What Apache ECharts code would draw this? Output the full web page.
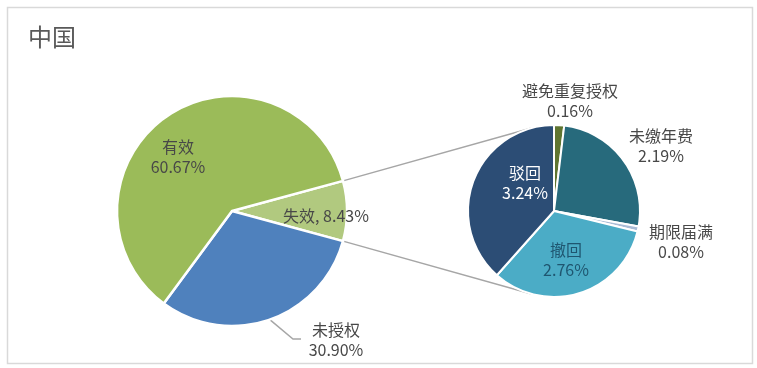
<!DOCTYPE html>
<html><head><meta charset="utf-8">
<script src="https://cdn.jsdelivr.net/npm/echarts@6/dist/echarts.min.js"></script>
<style>html,body{margin:0;padding:0;background:#fff}#c{width:757px;height:368px}</style>
</head><body><div id="c"></div>
<script>
// ---- data ----
const titleText = '中国';
const mainNames = ['失效', '未授权', '有效'];
const mainValues = [8.43, 30.90, 60.67];
const subNames = ['避免重复授权', '未缴年费', '期限届满', '撤回', '驳回'];
const subValues = [0.16, 2.19, 0.08, 2.76, 3.24];

// ---- layout / style ----
const C1 = [232, 211], R1 = 115;
const C2 = [554, 211], R2 = 86;
const mainColors = ['#B1C97F', '#4F81BD', '#9BBB59'];
const subColors = ['#5F7530', '#276A7C', '#A9BCD6', '#4BACC6', '#2C4D75'];
const mainLabelPos = [[94, 5], [104, 129], [-54, -54]];
const subLabelPos = [[16, -110], [107, -65], [127, 31], [12, 49], [-29, -28]];
const subLabelColors = ['#484848', '#484848', '#484848', '#1F5670', '#FFFFFF'];
const leaderPts = [[61, 128], [69, 128]];
const FONT = '"Noto Sans CJK SC", "Microsoft YaHei", sans-serif';

const rad = d => d * Math.PI / 180;
const mainSum = mainValues.reduce((a, b) => a + b, 0);
const mainStart = mainValues[0] / mainSum * 360 / 2;
const subStart = 90;

const pTop = [C1[0] + R1 * Math.cos(rad(mainStart)), C1[1] - R1 * Math.sin(rad(mainStart))];
const pBot = [C1[0] + R1 * Math.cos(rad(-mainStart)), C1[1] - R1 * Math.sin(rad(-mainStart))];
function tangent(P, top) {
  const dx = P[0] - C2[0], dy = P[1] - C2[1];
  const d = Math.hypot(dx, dy), phi = Math.atan2(dy, dx), a = Math.acos(R2 / d);
  const q1 = [C2[0] + R2 * Math.cos(phi + a), C2[1] + R2 * Math.sin(phi + a)];
  const q2 = [C2[0] + R2 * Math.cos(phi - a), C2[1] + R2 * Math.sin(phi - a)];
  return top ? (q1[1] < q2[1] ? q1 : q2) : (q1[1] > q2[1] ? q1 : q2);
}
const tTop = tangent(pTop, true), tBot = tangent(pBot, false);

const labelBase = { show: true, fontFamily: FONT, fontSize: 16, lineHeight: 20, color: '#484848' };

const mainData = mainNames.map((n, i) => ({
  name: n, value: mainValues[i],
  itemStyle: { color: mainColors[i] },
  label: Object.assign({}, labelBase, {
    position: i === 1 ? 'outside' : 'inside',
    formatter: i === 0 ? (p => p.name + ', ' + p.value.toFixed(2) + '%') : (p => p.name + '\n' + p.value.toFixed(2) + '%')
  }),
  labelLine: { show: i === 1, lineStyle: { color: '#A6A6A6', width: 1.5 } }
}));
const subData = subNames.map((n, i) => ({
  name: n, value: subValues[i],
  itemStyle: { color: subColors[i] },
  label: Object.assign({}, labelBase, {
    position: 'inside', color: subLabelColors[i],
    formatter: p => p.name + '\n' + p.value.toFixed(2) + '%'
  }),
  labelLine: { show: false }
}));

const chart = echarts.init(document.getElementById('c'));
chart.setOption({
  animation: false,
  backgroundColor: '#fff',
  title: { text: titleText, left: 23, top: 20, textStyle: { fontFamily: FONT, fontSize: 24, fontWeight: 'normal', color: '#595959' } },
  graphic: [
    { type: 'rect', shape: { x: 7.5, y: 7.5, width: 745, height: 356 }, style: { fill: 'none', stroke: '#D9D9D9', lineWidth: 1.5 }, silent: true, z: -1 },
    { type: 'line', shape: { x1: pTop[0], y1: pTop[1], x2: tTop[0], y2: tTop[1] }, style: { stroke: '#A6A6A6', lineWidth: 1.5 }, silent: true },
    { type: 'line', shape: { x1: pBot[0], y1: pBot[1], x2: tBot[0], y2: tBot[1] }, style: { stroke: '#A6A6A6', lineWidth: 1.5 }, silent: true }
  ],
  series: [
    {
      type: 'pie', center: C1, radius: R1, startAngle: mainStart, clockwise: true,
      avoidLabelOverlap: false, silent: true,
      itemStyle: { borderColor: '#fff', borderWidth: 2.5 },
      data: mainData,
      labelLayout: function (p) {
        const o = mainLabelPos[p.dataIndex];
        const res = { x: C1[0] + o[0], y: C1[1] + o[1], align: 'center', verticalAlign: 'middle' };
        if (p.dataIndex === 1) {
          const mid = mainStart - (mainValues[0] + mainValues[1] / 2) / mainSum * 360;
          const e = [C1[0] + R1 * Math.cos(rad(mid)), C1[1] - R1 * Math.sin(rad(mid))];
          res.labelLinePoints = [e, [C1[0] + leaderPts[0][0], C1[1] + leaderPts[0][1]], [C1[0] + leaderPts[1][0], C1[1] + leaderPts[1][1]]];
        }
        return res;
      }
    },
    {
      type: 'pie', center: C2, radius: R2, startAngle: subStart, clockwise: true,
      avoidLabelOverlap: false, silent: true,
      itemStyle: { borderColor: '#fff', borderWidth: 2 },
      data: subData,
      labelLayout: function (p) {
        const o = subLabelPos[p.dataIndex];
        return { x: C2[0] + o[0], y: C2[1] + o[1], align: 'center', verticalAlign: 'middle' };
      }
    }
  ]
});
</script>
</body></html>
